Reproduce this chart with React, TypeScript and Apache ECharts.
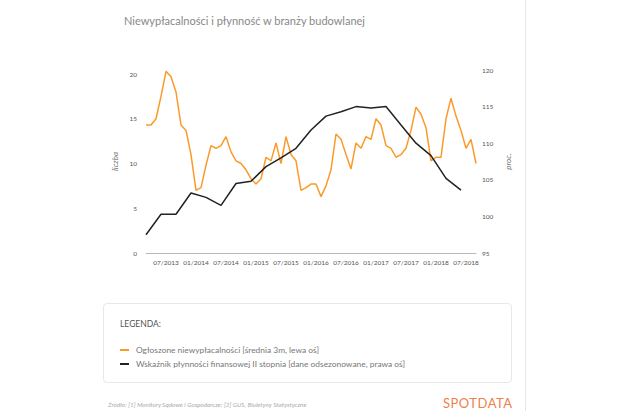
import React, { useEffect, useRef } from "react";
import * as echarts from "echarts";

// monthly categories 03/2013 .. 09/2018
const months: string[] = [];
for (let y = 2013; y <= 2018; y++) {
  for (let m = 1; m <= 12; m++) {
    if ((y === 2013 && m < 3) || (y === 2018 && m > 9)) continue;
    months.push(String(m).padStart(2, "0") + "/" + y);
  }
}

const insolvencies = [
  14.3, 14.3, 15, 17.5, 20.3, 19.7, 18, 14.3, 13.7, 11,
  7, 7.3, 9.8, 12, 11.7, 12, 13, 11.3, 10.3, 10,
  9.3, 8.3, 7.7, 8.3, 10.7, 10.3, 12.3, 10, 13, 11,
  10.3, 7, 7.3, 7.7, 7.7, 6.3, 7.5, 9.3, 13.3, 12.7,
  11, 9.4, 12.3, 11.7, 13, 12.7, 15, 14.3, 12, 11.7,
  10.7, 11, 11.7, 13.7, 16.3, 15.5, 14, 10.3, 10.7, 10.7,
  15, 17.3, 15.3, 13.7, 11.7, 12.7, 10,
];

// quarterly liquidity index (every 3rd month from 03/2013)
const liquidityQuarterly = [
  97.5, 100.3, 100.3, 103.2, 102.6, 101.5, 104.5, 104.8, 106.8, 108, 109.3,
  111.8, 113.7, 114.3, 115, 114.8, 115, 112.5, 110, 108.3, 105.2, 103.6,
];

const liquidity = months.map((_, i) =>
  i % 3 === 0 && liquidityQuarterly[i / 3] !== undefined ? liquidityQuarterly[i / 3] : null
);

const orange = "#fb9a2a";
const dark = "#222222";
const font = "Lato";

const Chart: React.FC = () => {
  const ref = useRef<HTMLDivElement>(null);
  useEffect(() => {
    if (!ref.current) return;
    const chart = echarts.init(ref.current, undefined, { renderer: "svg" });
    chart.setOption({
      animation: false,
      textStyle: { fontFamily: font },
      title: {
        text: "Niewypłacalności i płynność w branży budowlanej",
        left: 119,
        top: 10,
        textStyle: { fontSize: 11, fontWeight: "normal", color: "#888", fontFamily: font },
      },
      grid: { left: 146, right: 164, top: 70, height: 183 },
      xAxis: {
        type: "category",
        data: months,
        boundaryGap: false,
        axisLine: { lineStyle: { color: "#bbb" } },
        axisTick: { show: false },
        axisLabel: {
          fontSize: 6.5,
          color: "#555",
          margin: 6,
          interval: (i: number) => i % 6 === 4,
        },
      },
      yAxis: [
        {
          type: "value",
          min: 0,
          max: 20.45,
          interval: 5,
          showMaxLabel: false,
          splitLine: { show: false },
          axisLabel: { fontSize: 6.5, color: "#555", margin: 9 },
          name: "liczba",
          nameLocation: "middle",
          nameGap: 24,
          nameRotate: 90,
          nameTextStyle: { fontSize: 8, fontStyle: "italic", color: "#777" },
        },
        {
          type: "value",
          min: 95,
          max: 120,
          interval: 5,
          splitLine: { show: false },
          axisLabel: { fontSize: 6.5, color: "#555", margin: 6 },
          name: "proc.",
          nameLocation: "middle",
          nameGap: 28,
          nameRotate: 90,
          nameTextStyle: { fontSize: 8, fontStyle: "italic", color: "#777" },
        },
      ],
      series: [
        {
          type: "line",
          data: insolvencies,
          yAxisIndex: 0,
          symbol: "none",
          lineStyle: { color: orange, width: 1.5 },
        },
        {
          type: "line",
          data: liquidity,
          yAxisIndex: 1,
          connectNulls: true,
          symbol: "none",
          lineStyle: { color: dark, width: 1.5 },
        },
      ],
    });
    return () => chart.dispose();
  }, []);
  return <div ref={ref} style={{ position: "absolute", left: 0, top: 0, width: 640, height: 300 }} />;
};

const LegendRow: React.FC<{ color: string; text: string }> = ({ color, text }) => (
  <div style={{ display: "flex", alignItems: "center", height: 14 }}>
    <span style={{ width: 9, height: 2, background: color, marginRight: 7, display: "inline-block" }} />
    <span>{text}</span>
  </div>
);

export default function App() {
  return (
    <div style={{ position: "fixed", left: 0, top: 0, width: 640, height: 411, background: "#fff", overflow: "hidden", fontFamily: font }}>
      <div style={{ position: "absolute", left: 525, top: 0, width: 1, height: 411, background: "#e6e6e6" }} />
      <Chart />
      <div style={{ position: "absolute", left: 103, top: 303, width: 409, height: 80, border: "1px solid #e8e8e8", borderRadius: 4, boxSizing: "border-box", fontSize: 8.4, color: "#777" }}>
        <div style={{ position: "absolute", left: 16, top: 15, fontSize: 8.5, color: "#555" }}>LEGENDA:</div>
        <div style={{ position: "absolute", left: 16, top: 39 }}>
          <LegendRow color={orange} text="Ogłoszone niewypłacalności [średnia 3m, lewa oś]" />
          <LegendRow color={dark} text="Wskaźnik płynności finansowej II stopnia [dane odsezonowane, prawa oś]" />
        </div>
      </div>
      <div style={{ position: "absolute", left: 108, top: 401, fontSize: 6.3, fontStyle: "italic", color: "#aaa" }}>
        Źródło: [1] Monitory Sądowe i Gospodarcze; [2] GUS, Biuletyny Statystyczne
      </div>
      <div style={{ position: "absolute", left: 443, top: 395, fontSize: 13, color: "#f07f4a", letterSpacing: 0.5 }}>
        SPOTDATA
      </div>
    </div>
  );
}
